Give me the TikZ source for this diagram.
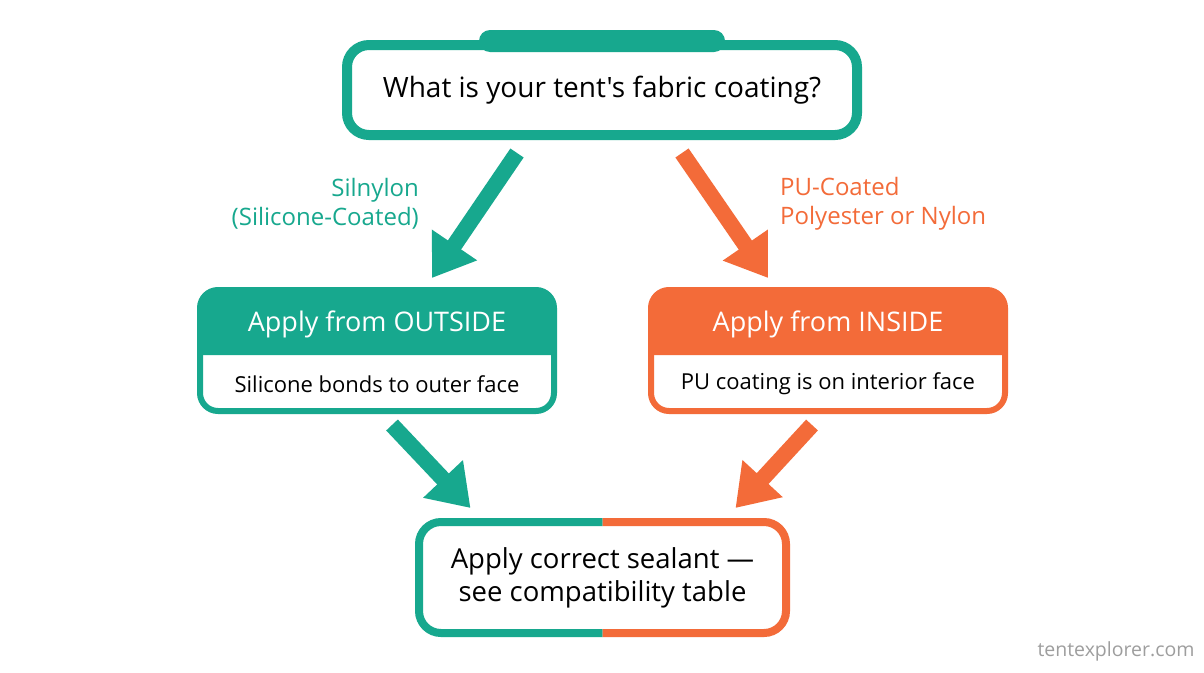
\documentclass[tikz,border=0pt]{standalone}
\usepackage{fontspec}
\setmainfont{Open Sans}[Ligatures=TeXOff]
\usetikzlibrary{arrows.meta}
\definecolor{coatteal}{HTML}{17A88E}
\definecolor{coatorange}{HTML}{F36B39}

\begin{document}
\begin{tikzpicture}
[x=1pt, y=1pt,
 every node/.style={inner sep=0pt},
 bigarrow/.style={line width=16pt, -{Triangle[width=52pt, length=40pt]}},
 card/.style={rectangle, minimum width=354pt, minimum height=121pt, rounded corners=18pt, line width=6pt, fill=white},
 cardtitle/.style={text=white, font=\fontsize{27}{32}\selectfont},
 cardtext/.style={text=black, font=\fontsize{22}{26}\selectfont},
 branchlbl/.style={font=\fontsize{24}{29}\selectfont}]
\useasboundingbox[fill=white] (0,0) rectangle (1204,-672);

% question
\node (q) [rectangle, minimum width=510pt, minimum height=90pt, rounded corners=22pt, line width=10pt, draw=coatteal, fill=white, font=\fontsize{28}{33}\selectfont] at (602, -90) {What is your tent's fabric coating?};
\node (tab) [rectangle, minimum width=246pt, minimum height=22pt, rounded corners=11pt, fill=coatteal] at ([yshift=-1pt]q.north) {};

% outside card
\node (outside) [card, draw=coatteal] at (377, -350.5) {};
\fill [coatteal] ([shift={(3pt,-68pt)}]outside.north west) [rounded corners=18pt] -- ([shift={(3pt,-3pt)}]outside.north west) -- ([shift={(-3pt,-3pt)}]outside.north east) [sharp corners] -- ([shift={(-3pt,-68pt)}]outside.north east) -- cycle;
\node (outsidetitle) [cardtitle] at ([yshift=-37pt]outside.north) {Apply from OUTSIDE};
\node (outsidetext) [cardtext] at ([yshift=30pt]outside.south) {Silicone bonds to outer face};

% inside card
\node (inside) [card, draw=coatorange] at (828, -350.5) {};
\fill [coatorange] ([shift={(3pt,-68pt)}]inside.north west) [rounded corners=18pt] -- ([shift={(3pt,-3pt)}]inside.north west) -- ([shift={(-3pt,-3pt)}]inside.north east) [sharp corners] -- ([shift={(-3pt,-68pt)}]inside.north east) -- cycle;
\node (insidetitle) [cardtitle] at ([yshift=-37pt]inside.north) {Apply from INSIDE};
\node (insidetext) [cardtext] at ([yshift=30pt]inside.south) {PU coating is on interior face};

% result
\node (seal) [rectangle, minimum width=367pt, minimum height=111pt, line width=8pt, align=center, font=\fontsize{27.5}{33}\selectfont] at (602.5, -577.5) {Apply correct sealant —\\see compatibility table};
\begin{scope}
\clip ([shift={(-10pt,10pt)}]seal.north west) rectangle ([yshift=-10pt]seal.south);
\draw [coatteal, line width=8pt, rounded corners=22pt] ([shift={(4pt,-4pt)}]seal.north west) rectangle ([shift={(-4pt,4pt)}]seal.south east);
\end{scope}
\begin{scope}
\clip ([yshift=10pt]seal.north) rectangle ([shift={(10pt,-10pt)}]seal.south east);
\draw [coatorange, line width=8pt, rounded corners=22pt] ([shift={(4pt,-4pt)}]seal.north west) rectangle ([shift={(-4pt,4pt)}]seal.south east);
\end{scope}

% branches
\draw [bigarrow, coatteal] ([shift={(-85pt,-13pt)}]q.south) -- ([shift={(55pt,9pt)}]outside.north);
\draw [bigarrow, coatorange] ([shift={(80pt,-13pt)}]q.south) -- ([shift={(-60pt,9pt)}]inside.north);
\draw [bigarrow, coatteal] ([shift={(15pt,-11pt)}]outside.south) -- ([shift={(-132pt,10pt)}]seal.north);
\draw [bigarrow, coatorange] ([shift={(-16pt,-11pt)}]inside.south) -- ([shift={(133pt,10pt)}]seal.north);

\node (silnylon) [branchlbl, text=coatteal, align=right, anchor=east] at (419, -203.5) {Silnylon\\(Silicone-Coated)};
\node (pucoated) [branchlbl, text=coatorange, align=left, anchor=west] at (780, -203.5) {PU-Coated\\Polyester or Nylon};

\node (site) [text=black!38, font=\fontsize{19.5}{22}\selectfont] at (1116, -651) {tentexplorer.com};
\end{tikzpicture}
\end{document}
